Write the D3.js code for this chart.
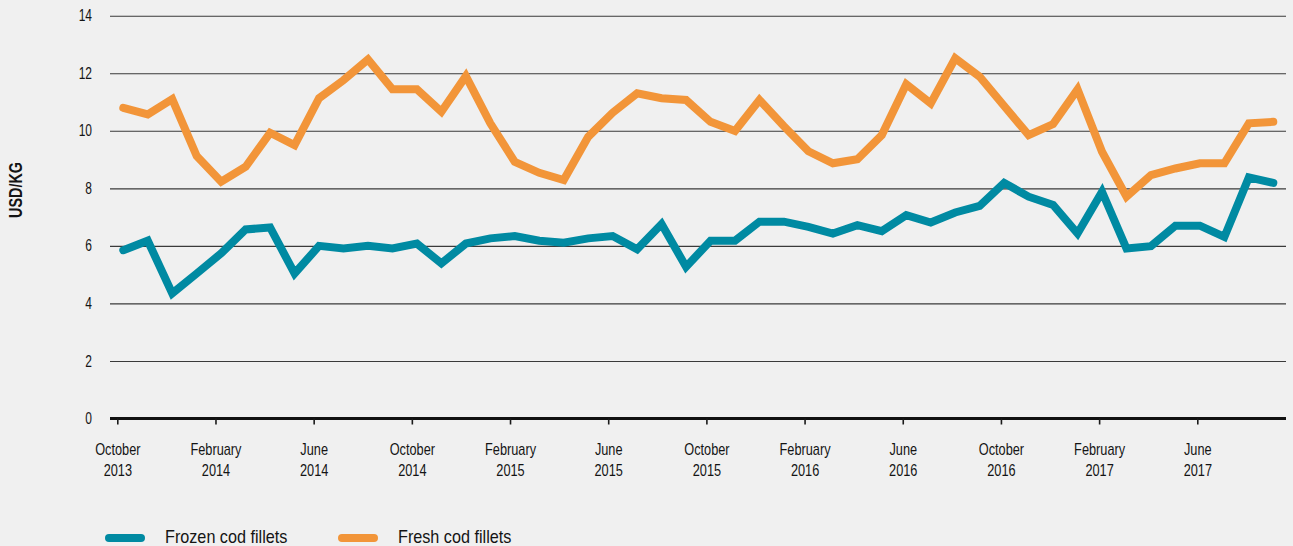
<!DOCTYPE html>
<html>
<head>
<meta charset="utf-8">
<script src="https://cdn.jsdelivr.net/npm/d3@7"></script>
<style>
  html, body { margin: 0; padding: 0; background: #f0f0f0; }
  svg { display: block; }
  .lbl { font-family: "Liberation Sans", Arial, sans-serif; fill: #141414; }
</style>
</head>
<body>
<svg id="chart" width="1293" height="546"></svg>
<script>
// Monthly export prices, October 2013 – September 2017 (USD/KG)
const months = [
  "2013-10","2013-11","2013-12","2014-01","2014-02","2014-03","2014-04","2014-05","2014-06","2014-07","2014-08","2014-09",
  "2014-10","2014-11","2014-12","2015-01","2015-02","2015-03","2015-04","2015-05","2015-06","2015-07","2015-08","2015-09",
  "2015-10","2015-11","2015-12","2016-01","2016-02","2016-03","2016-04","2016-05","2016-06","2016-07","2016-08","2016-09",
  "2016-10","2016-11","2016-12","2017-01","2017-02","2017-03","2017-04","2017-05","2017-06","2017-07","2017-08","2017-09"
];

const frozenCod = [
  5.85, 6.18, 4.35, 5.04, 5.74, 6.57, 6.64, 5.04, 6.00, 5.91, 6.00, 5.91,
  6.08, 5.39, 6.08, 6.26, 6.34, 6.18, 6.11, 6.26, 6.34, 5.88, 6.76, 5.27,
  6.18, 6.18, 6.84, 6.84, 6.66, 6.43, 6.72, 6.51, 7.07, 6.81, 7.16, 7.39,
  8.19, 7.71, 7.42, 6.43, 7.88, 5.91, 5.99, 6.70, 6.70, 6.31, 8.38, 8.19
];

const freshCod = [
  10.80, 10.57, 11.10, 9.12, 8.23, 8.75, 9.93, 9.50, 11.13, 11.76, 12.48, 11.44,
  11.44, 10.66, 11.90, 10.26, 8.92, 8.54, 8.29, 9.79, 10.63, 11.30, 11.13, 11.07,
  10.31, 9.99, 11.07, 10.16, 9.29, 8.87, 9.01, 9.85, 11.62, 10.95, 12.52, 11.88,
  10.86, 9.85, 10.23, 11.44, 9.27, 7.71, 8.46, 8.69, 8.87, 8.87, 10.26, 10.31
];

const seriesNames = ["Frozen cod fillets", "Fresh cod fillets"];
const seriesColors = ["#008aa2", "#f29539"];

const yTicks = [0, 2, 4, 6, 8, 10, 12, 14];
const xTickIndex = [0, 4, 8, 12, 16, 20, 24, 28, 32, 36, 40, 44];
const xTickLabels = [
  ["October", "2013"], ["February", "2014"], ["June", "2014"], ["October", "2014"],
  ["February", "2015"], ["June", "2015"], ["October", "2015"], ["February", "2016"],
  ["June", "2016"], ["October", "2016"], ["February", "2017"], ["June", "2017"]
];
const yTitle = "USD/KG";

// condensed look for all chart text
const narrow = 0.75;

const svg = d3.select("#chart");
const W = 1293, H = 546;
const plotLeft = 110, plotRight = 1286;

svg.append("rect").attr("width", W).attr("height", H).attr("fill", "#f0f0f0");

// scales
const y = d3.scaleLinear().domain([0, 14]).range([418.5, 15.7]);
const x = d3.scaleLinear().domain([0, months.length - 1]).range([123.3, 1273.3]);
const xAxisScale = d3.scaleLinear().domain([0, 44]).range([117.3, 1197.3]);

// horizontal gridlines + y labels
const yAxis = d3.axisLeft(y).tickValues(yTicks).tickSize(0).tickPadding(0);
const gy = svg.append("g").attr("transform", `translate(${plotLeft},0)`).call(yAxis);
gy.select(".domain").remove();
gy.selectAll(".tick text")
  .attr("class", "lbl")
  .attr("font-size", 16)
  .attr("x", 0)
  .attr("text-anchor", "end")
  .attr("transform", `translate(-18,0) scale(${narrow},1)`);
gy.selectAll(".tick")
  .filter(d => d > 0)
  .append("line")
  .attr("x1", 0).attr("x2", plotRight - plotLeft)
  .attr("stroke", "#3a3a3a").attr("stroke-width", 1.1);

// y title
svg.append("text")
  .attr("class", "lbl")
  .attr("transform", `translate(22,190) rotate(-90) scale(0.8,1)`)
  .attr("text-anchor", "middle")
  .attr("font-family", "'Open Sans', 'DejaVu Sans', sans-serif")
  .attr("font-weight", "bold")
  .attr("font-size", 18)
  .text(yTitle);

// x axis
const xAxis = d3.axisBottom(xAxisScale).tickValues(xTickIndex).tickSize(6).tickSizeOuter(0).tickFormat(() => "");
const gx = svg.append("g").attr("transform", `translate(0,${y(0)})`).call(xAxis);
gx.select(".domain").remove();
gx.selectAll(".tick line").attr("stroke", "#1a1a1a").attr("stroke-width", 1.6);
gx.insert("line", ":first-child")
  .attr("x1", plotLeft).attr("x2", plotRight)
  .attr("stroke", "#111").attr("stroke-width", 3);
gx.selectAll(".tick").each(function(d, i) {
  const t = d3.select(this).select("text")
    .attr("class", "lbl")
    .attr("font-size", 17)
    .attr("y", 0)
    .attr("dy", null)
    .attr("text-anchor", "middle")
    .attr("transform", `scale(${narrow},1)`);
  t.text(null);
  t.append("tspan").attr("x", 0).attr("y", 37).text(xTickLabels[i][0]);
  t.append("tspan").attr("x", 0).attr("y", 58).text(xTickLabels[i][1]);
});

// series lines
const line = d3.line().x((d, i) => x(i)).y(d => y(d));
[frozenCod, freshCod].forEach((vals, k) => {
  svg.append("path")
    .datum(vals)
    .attr("d", line)
    .attr("fill", "none")
    .attr("stroke", seriesColors[k])
    .attr("stroke-width", 8)
    .attr("stroke-linejoin", "miter")
    .attr("stroke-linecap", "round");
});

// legend
const legendX = [105, 338];
seriesNames.forEach((name, k) => {
  const g = svg.append("g").attr("transform", `translate(${legendX[k]},538)`);
  g.append("line")
    .attr("x1", 4).attr("x2", 36)
    .attr("stroke", seriesColors[k])
    .attr("stroke-width", 8)
    .attr("stroke-linecap", "round");
  g.append("text")
    .attr("class", "lbl")
    .attr("transform", `translate(60,5) scale(0.9,1)`)
    .attr("font-size", 18)
    .text(name);
});
</script>
</body>
</html>
